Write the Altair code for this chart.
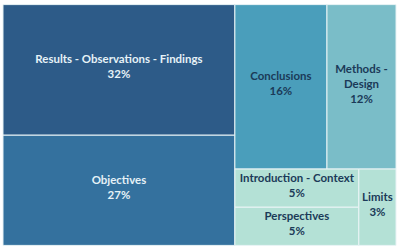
import altair as alt
import pandas as pd

categories = ["Results - Observations - Findings", "Objectives", "Conclusions",
              "Methods - Design", "Introduction - Context", "Perspectives", "Limits"]
labels = ["Results - Observations - Findings", "Objectives", "Conclusions",
          "Methods -\nDesign", "Introduction - Context", "Perspectives", "Limits"]
shares = [32, 27, 16, 12, 5, 5, 3]
fills = ["#2D5B88", "#34719E", "#4A9EBB", "#7ABDC8", "#B4E1D6", "#B4E1D6", "#B4E1D6"]
text_colors = ["#E6F2F7", "#E6F2F7", "#1B3A58", "#1B3A58", "#1B3A58", "#1B3A58", "#1B3A58"]

W, H = 395, 242
LH = 15

# nested slice-and-dice arrangement (indices into categories)
tree = ("h", [("v", [0, 1]),
              ("v", [("h", [2, 3]),
                     ("h", [("v", [4, 5]), 6])])])

def total(node):
    if isinstance(node, int):
        return shares[node]
    return sum(total(c) for c in node[1])

rects = {}
def lay(node, x0, y0, x1, y1):
    if isinstance(node, int):
        rects[node] = (x0, y0, x1, y1)
        return
    d, kids = node
    t = total(node)
    pos = x0 if d == "h" else y0
    for k in kids:
        f = total(k) / t
        if d == "h":
            nx = pos + (x1 - x0) * f
            lay(k, pos, y0, nx, y1)
            pos = nx
        else:
            ny = pos + (y1 - y0) * f
            lay(k, x0, pos, x1, ny)
            pos = ny

lay(tree, 0, 0, W, H)

rows = []
for i, c in enumerate(categories):
    x0, y0, x1, y1 = rects[i]
    label = labels[i] + "\n" + f"{shares[i]}%"
    n = label.count("\n") + 1
    rows.append({"cat": c, "label": label,
                 "x0": x0, "x1": x1, "y0": y0, "y1": y1,
                 "cx": (x0 + x1) / 2, "cy": (y0 + y1) / 2 - 2 - (n - 1) * LH / 2,
                 "tc": text_colors[i]})
df = pd.DataFrame(rows)

xs = alt.Scale(domain=[0, W], nice=False, zero=False)
ys = alt.Scale(domain=[0, H], nice=False, zero=False, reverse=True)

base = alt.Chart(df)
rect = base.mark_rect(stroke="#EAF4F6", strokeWidth=1).encode(
    x=alt.X("x0:Q", scale=xs, axis=None),
    x2="x1:Q",
    y=alt.Y("y0:Q", scale=ys, axis=None),
    y2="y1:Q",
    color=alt.Color("cat:N", scale=alt.Scale(domain=categories, range=fills), legend=None),
)
text = base.mark_text(lineBreak="\n", lineHeight=LH, font="Lato", fontSize=11.5,
                      fontWeight="bold", align="center", baseline="middle").encode(
    x=alt.X("cx:Q", scale=xs),
    y=alt.Y("cy:Q", scale=ys),
    text="label:N",
    color=alt.Color("tc:N", scale=None),
)

chart = (rect + text).properties(
    width=W, height=H,
    padding={"left": 2, "top": 3, "right": 3, "bottom": 4},
    background="white",
).configure_view(stroke=None)

chart.save("out.html", embed_options={"renderer": "svg", "actions": False})
